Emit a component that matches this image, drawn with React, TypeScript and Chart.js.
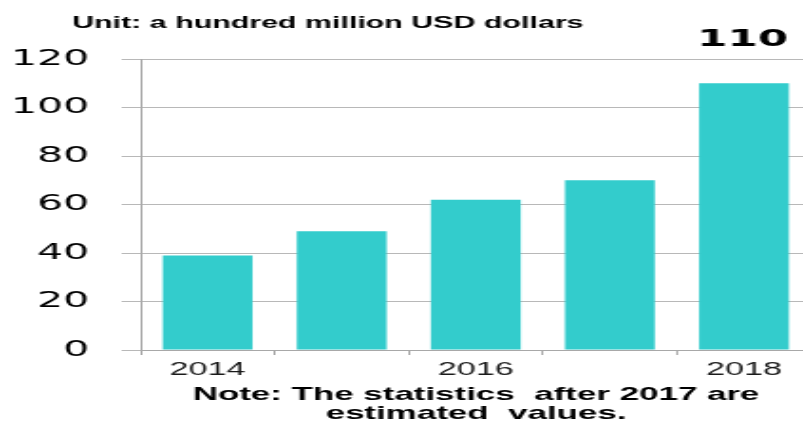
import React, { useEffect, useRef } from "react";
import { Chart, registerables } from "chart.js";

Chart.register(...registerables);

const categories = ["2014", "2015", "2016", "2017", "2018"];
const values = [39, 49, 62, 70, 110];
const yTicks = [0, 20, 40, 60, 80, 100, 120];
const titleText = "Unit: a hundred million USD dollars";
const noteLines = ["Note: The statistics  after 2017 are", "estimated  values."];
const labelledIndex = 4;

const LOGICAL_W = 427;
const DISPLAY_W = 811;
const H = 421;
const S = DISPLAY_W / LOGICAL_W;

const textPlugin = {
  id: "texts",
  afterDraw(chart: any) {
    const ctx = chart.ctx;
    ctx.save();
    ctx.fillStyle = "#000";
    ctx.textBaseline = "alphabetic";
    ctx.textAlign = "left";
    ctx.font = 'bold 16px "Liberation Sans", Arial, sans-serif';
    ctx.fillText(titleText, 72 / S, 28);

    const meta = chart.getDatasetMeta(0);
    const bar = meta.data[labelledIndex];
    ctx.textAlign = "center";
    ctx.font = 'bold 23px "DejaVu Sans", sans-serif';
    ctx.fillText(String(values[labelledIndex]), bar.x - 1.5 / S, 46);

    ctx.font = 'bold 18.4px "Liberation Sans", Arial, sans-serif';
    ctx.fillText(noteLines[0], 476 / S, 400);
    ctx.fillText(noteLines[1], 476 / S, 419);
    ctx.restore();
  },
};

export default function App() {
  const ref = useRef<HTMLCanvasElement>(null);
  useEffect(() => {
    if (!ref.current) return;
    const chart = new Chart(ref.current, {
      type: "bar",
      data: {
        labels: categories,
        datasets: [
          {
            data: values,
            backgroundColor: "#33CCCC",
            borderWidth: 0,
            barPercentage: 0.67,
            categoryPercentage: 1,
          },
        ],
      },
      options: {
        responsive: false,
        animation: false,
        devicePixelRatio: 1,
        layout: { padding: { top: 59, left: 0, right: 0, bottom: 0 } },
        plugins: {
          legend: { display: false },
          tooltip: { enabled: false },
          title: { display: false },
        },
        scales: {
          x: {
            offset: true,
            grid: {
              offset: true,
              drawOnChartArea: false,
              drawTicks: true,
              tickLength: 5,
              color: "#a8a8a8",
              lineWidth: 1,
            },
            border: { display: true, color: "#a8a8a8", width: 1 },
            ticks: {
              autoSkip: false,
              maxRotation: 0,
              padding: 4,
              color: "#1a1a1a",
              font: { family: '"Liberation Sans", Arial, sans-serif', size: 18 },
              callback: (_v: any, i: number) => (i % 2 === 0 ? categories[i] : ""),
            },
            afterFit: (scale: any) => {
              scale.height = H - 59 - 291;
            },
          },
          y: {
            min: yTicks[0],
            max: yTicks[yTicks.length - 1],
            afterBuildTicks: (scale: any) => {
              scale.ticks = yTicks.map((v) => ({ value: v }));
            },
            grid: {
              color: "#b8b8b8",
              lineWidth: 1,
              drawTicks: true,
              tickLength: 10,
            },
            border: { display: true, color: "#aaaaaa", width: 1 },
            ticks: {
              padding: 17,
              color: "#000",
              font: { family: '"DejaVu Sans", sans-serif', size: 21.6 },
            },
            afterFit: (scale: any) => {
              scale.width = 74;
            },
          },
        },
      },
      plugins: [textPlugin],
    });
    return () => chart.destroy();
  }, []);

  return (
    <div
      style={{
        position: "fixed",
        left: 0,
        top: 0,
        width: 803,
        height: H,
        overflow: "hidden",
        background: "#fff",
      }}
    >
      <canvas
        ref={ref}
        width={LOGICAL_W}
        height={H}
        style={{ width: DISPLAY_W + "px", height: H + "px", display: "block" }}
      />
    </div>
  );
}
